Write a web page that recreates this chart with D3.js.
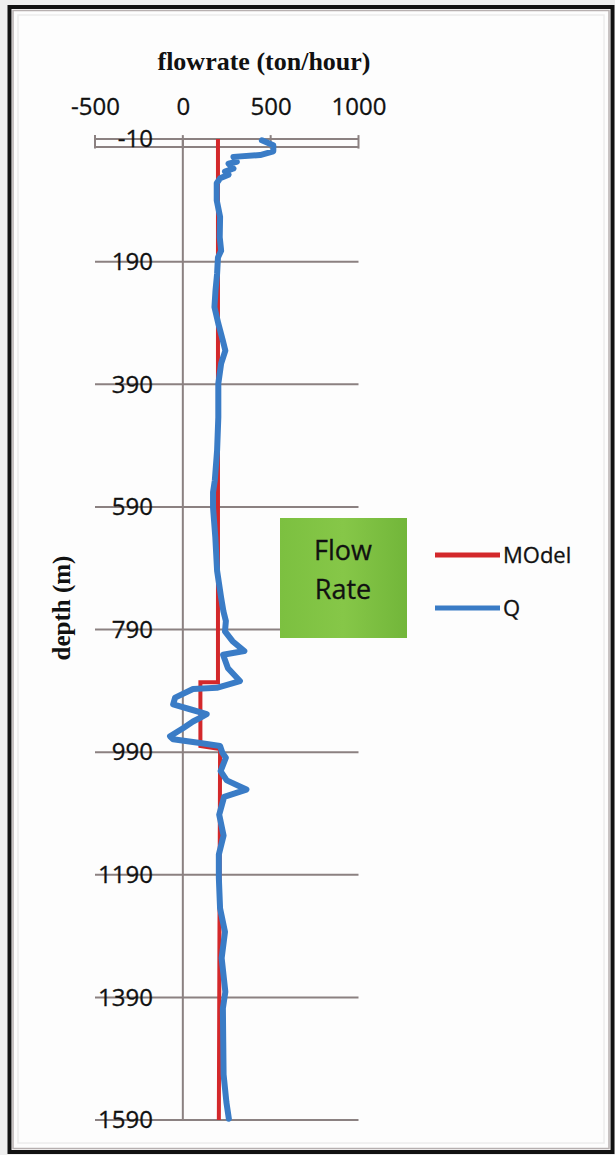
<!DOCTYPE html>
<html>
<head>
<meta charset="utf-8">
<script src="https://cdn.jsdelivr.net/npm/d3@7"></script>
<style>
  html, body { margin: 0; padding: 0; background: #eeeeee; }
  svg { display: block; }
</style>
</head>
<body>
<svg id="chart" width="615" height="1155"></svg>
<script>
// Axis ticks
const depthTicks = [-10, 190, 390, 590, 790, 990, 1190, 1390, 1590];
const flowTicks = [-500, 0, 500, 1000];

// Measured flow rate Q (ton/hour) by depth (m)
const qDepth = [-8, 0, 10, 16, 19, 27, 30, 38, 43, 48, 54, 62, 90, 117, 150, 172, 183, 210, 237, 264,
  291, 319, 335, 356, 389, 444, 498, 547, 566, 591, 640, 694, 738, 760, 776, 793, 809, 825, 831, 853,
  874, 885, 887, 901, 912, 920, 928, 934, 940, 951, 964, 969, 975, 980, 991, 999, 1021, 1036, 1051, 1063,
  1092, 1126, 1157, 1195, 1245, 1283, 1326, 1381, 1408, 1463, 1516, 1561, 1588];
const qFlow = [450, 515, 515, 440, 288, 307, 260, 288, 240, 260, 212, 193, 193, 212, 210, 218, 200, 195, 186, 180,
  202, 228, 242, 218, 202, 202, 195, 182, 172, 172, 185, 195, 218, 231, 245, 240, 283, 350, 229, 257,
  325, 193, 58, -44, -55, 41, 136, 98, 58, 1, -73, -55, 98, 212, 225, 245, 215, 250, 362, 235,
  207, 232, 205, 205, 212, 240, 221, 242, 228, 230, 232, 248, 262];

// Model flow rate by depth
const modelDepth = [-10, 876, 876, 980, 985, 1590];
const modelFlow = [200, 200, 100, 100, 212, 205];

const seriesNames = ["MOdel", "Q"];
const seriesColors = ["#d3282b", "#3a7cc6"];

const svg = d3.select("#chart");

// Page frame
svg.append("rect").attr("x", 9.5).attr("y", 7).attr("width", 603).attr("height", 1145)
  .attr("fill", "#fdfdfd").attr("stroke", "#111").attr("stroke-width", 4);
svg.append("rect").attr("x", 13).attr("y", 10.5).attr("width", 596).attr("height", 1138)
  .attr("fill", "none").attr("stroke", "#b7b0b0").attr("stroke-width", 1.5);
svg.append("rect").attr("x", 18).attr("y", 15).attr("width", 586).attr("height", 1128)
  .attr("fill", "none").attr("stroke", "#ececec").attr("stroke-width", 1.5);

const x = d3.scaleLinear().domain([-500, 1000]).range([95, 358.5]);
const y = d3.scaleLinear().domain([-10, 1590]).range([139.1, 1120]);

const gridColor = "#8b8181";
const labelFont = "'Open Sans', sans-serif";
const plainNumber = d => String(d);

// Horizontal gridlines
svg.append("g").selectAll("line").data(depthTicks).join("line")
  .attr("x1", x(-500)).attr("x2", x(1000))
  .attr("y1", d => y(d)).attr("y2", d => y(d))
  .attr("stroke", gridColor).attr("stroke-width", 2);

// Vertical axis crossing at zero
svg.append("line")
  .attr("x1", x(0)).attr("x2", x(0))
  .attr("y1", y(-10)).attr("y2", y(1590))
  .attr("stroke", gridColor).attr("stroke-width", 2);

// Top flow-rate axis
const axisY = y(-10) + 7.5;
const xAxis = d3.axisTop(x).tickValues(flowTicks).tickFormat(plainNumber)
  .tickSizeInner(0).tickSizeOuter(0).tickPadding(32);
const gx = svg.append("g").attr("transform", `translate(0,${axisY})`).call(xAxis);
gx.select(".domain").attr("stroke", gridColor).attr("stroke-width", 2);
gx.selectAll("text").attr("font-family", labelFont).attr("font-size", 24)
  .attr("fill", "#111").attr("stroke", "#111").attr("stroke-width", 0.3);
svg.append("g").selectAll("line").data(flowTicks).join("line")
  .attr("x1", d => x(d)).attr("x2", d => x(d))
  .attr("y1", y(-10) - 4).attr("y2", axisY + 2)
  .attr("stroke", gridColor).attr("stroke-width", 2);

// Data lines
const line = d3.line().x(d => x(d[1])).y(d => y(d[0]));
svg.append("path").datum(d3.zip(modelDepth, modelFlow))
  .attr("d", line).attr("fill", "none")
  .attr("stroke", seriesColors[0]).attr("stroke-width", 4);
svg.append("path").datum(d3.zip(qDepth, qFlow))
  .attr("d", line).attr("fill", "none")
  .attr("stroke", seriesColors[1]).attr("stroke-width", 6)
  .attr("stroke-linejoin", "round").attr("stroke-linecap", "round");

// Depth tick labels
const yAxis = d3.axisLeft(y).tickValues(depthTicks).tickFormat(plainNumber)
  .tickSizeInner(0).tickSizeOuter(0).tickPadding(0);
const gy = svg.append("g").attr("transform", "translate(153,0)").call(yAxis);
gy.select(".domain").remove();
gy.selectAll("text").attr("font-family", labelFont).attr("font-size", 24)
  .attr("fill", "#111").attr("stroke", "#111").attr("stroke-width", 0.3);

// Axis titles
svg.append("text").attr("x", 264).attr("y", 70).attr("text-anchor", "middle")
  .attr("font-family", "'Liberation Serif', serif").attr("font-weight", "bold").attr("font-size", 26)
  .attr("fill", "#111").text("flowrate (ton/hour)");
svg.append("text").attr("transform", "translate(70,608) rotate(-90)").attr("text-anchor", "middle")
  .attr("font-family", "'Liberation Serif', serif").attr("font-weight", "bold").attr("font-size", 25)
  .attr("fill", "#111").text("depth (m)");

// Green title box
const grad = svg.append("defs").append("linearGradient").attr("id", "boxFill")
  .attr("x1", 0).attr("x2", 1).attr("y1", 0).attr("y2", 0);
grad.append("stop").attr("offset", "0%").attr("stop-color", "#7cc040");
grad.append("stop").attr("offset", "50%").attr("stop-color", "#86c748");
grad.append("stop").attr("offset", "100%").attr("stop-color", "#72b63a");
svg.append("rect").attr("x", 280).attr("y", 518).attr("width", 127).attr("height", 120)
  .attr("fill", "url(#boxFill)");
svg.append("text").attr("x", 343).attr("y", 560).attr("text-anchor", "middle")
  .attr("font-family", labelFont).attr("font-size", 27).attr("fill", "#111")
  .attr("stroke", "#111").attr("stroke-width", 0.3).text("Flow");
svg.append("text").attr("x", 343).attr("y", 599).attr("text-anchor", "middle")
  .attr("font-family", labelFont).attr("font-size", 27).attr("fill", "#111")
  .attr("stroke", "#111").attr("stroke-width", 0.3).text("Rate");

// Legend
const legend = svg.append("g").selectAll("g").data(seriesNames).join("g")
  .attr("transform", (d, i) => `translate(435,${555 + i * 53})`);
legend.append("line").attr("x1", 0).attr("x2", 65).attr("y1", 0).attr("y2", 0)
  .attr("stroke", (d, i) => seriesColors[i]).attr("stroke-width", 5);
legend.append("text").attr("x", 68).attr("y", 8)
  .attr("font-family", labelFont).attr("font-size", 22).attr("fill", "#111")
  .attr("stroke", "#111").attr("stroke-width", 0.3)
  .text(d => d);
</script>
</body>
</html>
